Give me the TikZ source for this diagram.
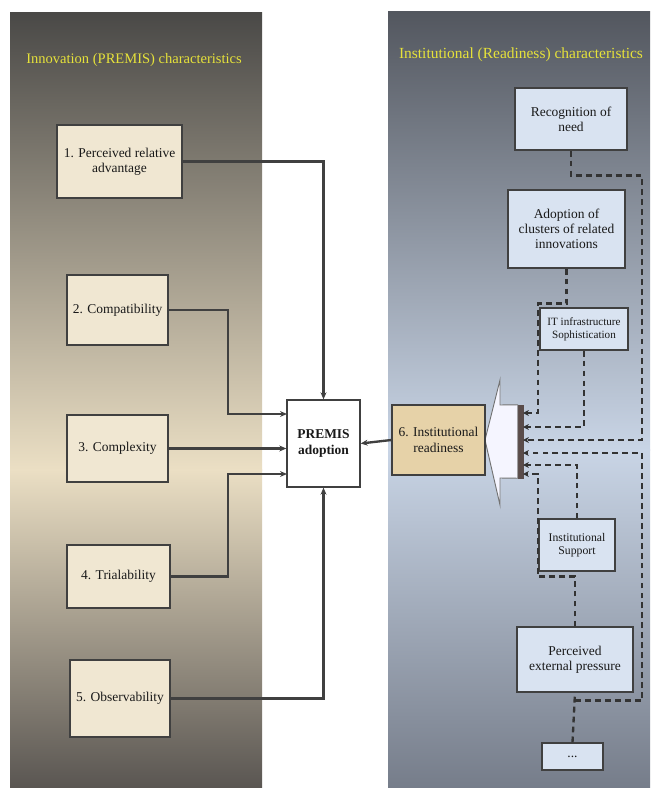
\documentclass[tikz,border=0pt]{standalone}
\usepackage{fontspec}
\setmainfont{Liberation Serif}
\usetikzlibrary{positioning,arrows.meta,calc}

\definecolor{leftdark}{HTML}{4A4947}
\definecolor{leftlight}{HTML}{EBDFC4}
\definecolor{leftbottom}{HTML}{5A5652}
\definecolor{rightdark}{HTML}{53575F}
\definecolor{rightlight}{HTML}{C9D5E6}
\definecolor{rightbottom}{HTML}{767D8A}
\definecolor{creamfill}{HTML}{F0E7D2}
\definecolor{bluefill}{HTML}{D9E3F1}
\definecolor{tanfill}{HTML}{E6D2A8}
\definecolor{titleyellow}{HTML}{E6E23A}
\definecolor{barfill}{HTML}{5A4C4A}

\begin{document}
\begin{tikzpicture}[
    x=0.03cm, y=-0.03cm,
    inbox/.style={
        rectangle, draw=black!75, line width=1.1pt,
        fill=#1, align=center, inner sep=2pt,
        font=\fontsize{11.5}{13}\selectfont, text=black!90
    },
    inbox/.default=creamfill,
    conn/.style={-{Stealth[length=6pt,width=5pt]}, line width=2pt, draw=black!75},
    dconn/.style={-{Stealth[length=5pt,width=5pt]}, line width=2pt,
        draw=black!80, dash pattern=on 5pt off 3.5pt},
    dline/.style={line width=2pt, draw=black!80, dash pattern=on 5pt off 3.5pt},
    ttl/.style={font=\fontsize{12.4}{14}\selectfont, text=titleyellow}
]
\useasboundingbox[fill=white] (0,0) rectangle (652,791);

% Panels
\fill[top color=leftdark, bottom color=leftlight] (10,13) rectangle (262,470);
\fill[top color=leftlight, bottom color=leftbottom] (10,469) rectangle (262,787);
\fill[top color=rightdark, bottom color=rightlight] (388,12) rectangle (650,450);
\fill[top color=rightlight, bottom color=rightbottom] (388,449) rectangle (650,787);

% Panel titles
\node[ttl] (ttlinno) at (134,60) {Innovation (PREMIS) characteristics};
\node[ttl, font=\fontsize{13.2}{15}\selectfont] (ttlinst) at (521,55)
    {Institutional (Readiness) characteristics};

% Innovation characteristics
\node[inbox, minimum width=3.75cm, minimum height=2.19cm] (reladv) at (119.5,161.5)
    {1. Perceived relative\\advantage};
\node[inbox, minimum width=3.03cm, minimum height=2.1cm] (compat) at (117.5,310)
    {2. Compatibility};
\node[inbox, minimum width=3.03cm, minimum height=2.01cm] (complex) at (117.5,448.5)
    {3. Complexity};
\node[inbox, minimum width=3.09cm, minimum height=1.89cm] (trial) at (118.5,576.5)
    {4. Trialability};
\node[inbox, minimum width=3.0cm, minimum height=2.31cm] (observ) at (120,698.5)
    {5. Observability};

% PREMIS adoption
\node[inbox=white, minimum width=2.19cm, minimum height=2.61cm,
    font=\fontsize{11.5}{13}\selectfont\bfseries] (premis) at (323.5,443.5)
    {PREMIS\\adoption};

% Big arrow with bar
\node[draw=barfill, fill=barfill, minimum width=0.15cm, minimum height=2.19cm,
    inner sep=0pt] (bar) at (520.5,441.5) {};
\filldraw[fill=white!96!blue, draw=black!55, line width=0.8pt]
    (485,440) -- (500,380) -- (500,405) -- (bar.north west)
    -- (bar.south west) -- (500,478) -- (500,505) -- cycle;

% Institutional readiness
\node[inbox=tanfill, minimum width=2.79cm, minimum height=2.1cm] (ready) at (438.5,440)
    {6. Institutional\\readiness};

% Readiness characteristics
\node[inbox=bluefill, minimum width=3.36cm, minimum height=1.86cm] (recog) at (571,119)
    {Recognition of\\need};
\node[inbox=bluefill, minimum width=3.51cm, minimum height=2.34cm] (adopt) at (566.5,229)
    {Adoption of\\clusters of related\\innovations};
\node[inbox=bluefill, minimum width=2.64cm, minimum height=1.26cm,
    font=\fontsize{9.5}{11}\selectfont] (itinf) at (584,329)
    {IT infrastructure\\Sophistication};
\node[inbox=bluefill, minimum width=2.28cm, minimum height=1.56cm,
    font=\fontsize{10}{11.5}\selectfont] (support) at (577,545)
    {Institutional\\Support};
\node[inbox=bluefill, minimum width=3.48cm, minimum height=1.95cm] (percv) at (575,659.5)
    {Perceived\\external pressure};
\node[inbox=bluefill, minimum width=1.83cm, minimum height=0.81cm] (more) at (572.5,756.5)
    {...};

% Knee and target points
\coordinate (kneeL) at (228,0);
\coordinate (in2) at (287,414);
\coordinate (in4) at (287,474);
\coordinate (colA) at (538,0);
\coordinate (colR) at (642,0);
\coordinate (t1) at (523,413);
\coordinate (t2) at (523,427);
\coordinate (t3) at (523,440);
\coordinate (t4) at (523,453);
\coordinate (t5) at (523,465);
\coordinate (t6) at (523,474);
\coordinate (pjoin) at ($(percv.south)+(0,8)$);

% Arrows into PREMIS adoption
\draw[conn] (reladv.east) -| (premis.north);
\draw[conn] (compat.east) -| (kneeL |- in2) -- (in2);
\draw[conn] (complex.east) -- (complex.east -| premis.west);
\draw[conn] (trial.east) -| (kneeL |- in4) -- (in4);
\draw[conn] (observ.east) -| (premis.south);
\draw[conn] (ready.west) -- (premis.east);

% Dashed arrows into readiness
\draw[dconn] (adopt.south) -- ++(0,35) -| (colA |- t1) -- (t1);
\draw[dconn] (itinf.south) |- (t2);
\draw[dconn] (recog.south) -- ++(0,25) -| (colR |- t3) -- (t3);
\draw[dline] (more.north) -- (percv.south);
\draw[dconn] (pjoin) -| (colR |- t4) -- (t4);
\draw[dconn] (support.north) |- (t5);
\draw[dconn] (percv.north) -- ++(0,-50) -| (colA |- t6) -- (t6);

\end{tikzpicture}
\end{document}
